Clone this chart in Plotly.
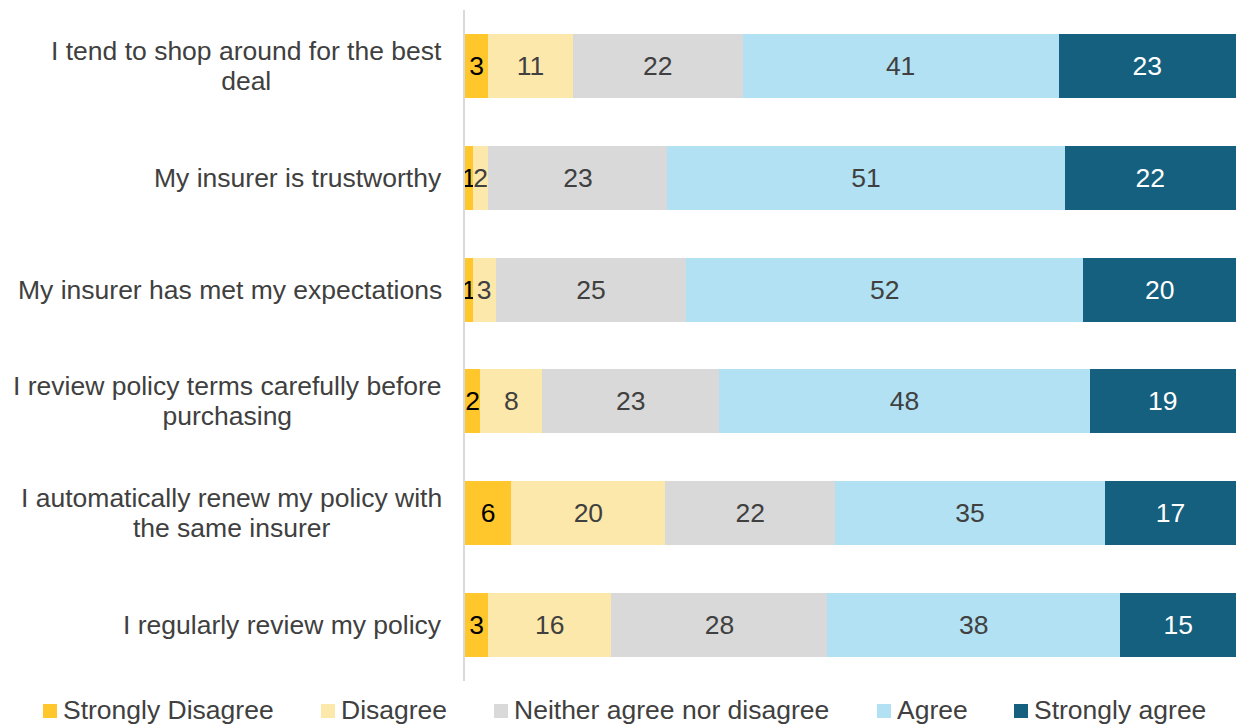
import plotly.graph_objects as go

# Survey statements (top to bottom) and their wrapped display labels
statements = [
    "I tend to shop around for the best deal",
    "My insurer is trustworthy",
    "My insurer has met my expectations",
    "I review policy terms carefully before purchasing",
    "I automatically renew my policy with the same insurer",
    "I regularly review my policy",
]
statement_labels = [
    "I tend to shop around for the best<br>deal",
    "My insurer is trustworthy",
    "My insurer has met my expectations",
    "I review policy terms carefully before<br>purchasing",
    "I automatically renew my policy with<br>the same insurer",
    "I regularly review my policy",
]

responses = ["Strongly Disagree", "Disagree", "Neither agree nor disagree",
             "Agree", "Strongly agree"]

strongly_disagree = [3, 1, 1, 2, 6, 3]
disagree = [11, 2, 3, 8, 20, 16]
neither = [22, 23, 25, 23, 22, 28]
agree = [41, 51, 52, 48, 35, 38]
strongly_agree = [23, 22, 20, 19, 17, 15]

series = [strongly_disagree, disagree, neither, agree, strongly_agree]
colors = ["#FFC72C", "#FDE8AB", "#D9D9D9", "#B1E1F2", "#14607E"]
label_colors = ["#000000", "#404040", "#404040", "#404040", "#FFFFFF"]

FONT = "Arial, Liberation Sans, sans-serif"
FS = 26.5
TEXT = "#404040"
# Tighter line spacing for the wrapped labels: the outer font size drives
# the line advance, the inner span keeps the glyph size.
LINE_FS = 29.5 / 1.3

fig = go.Figure()
for name, vals, col, tcol in zip(responses, series, colors, label_colors):
    fig.add_trace(go.Bar(
        y=statements, x=vals, name=name, orientation="h",
        marker=dict(color=col, line=dict(width=0)),
        text=[str(v) for v in vals], textposition="inside",
        insidetextanchor="middle", textangle=0,
        textfont=dict(family=FONT, size=FS, color=tcol),
        cliponaxis=False, showlegend=False,
    ))

# Plot-area geometry (pixels) used to place the legend and labels
W, H = 1236, 724
ML, MR, MT, MB = 465, 0, 10, 43
PW, PH = W - ML - MR, H - MT - MB


def px_x(x):
    return (x - ML) / PW


def px_y(y):
    return (H - MB - y) / PH


annotations = []
# Category labels, right-aligned next to the axis, lines centred
for s, lab in zip(statements, statement_labels):
    if "<br>" in lab:
        lines = lab.split("<br>")
        txt = "<br>".join(
            f"<span style='font-size:{FS}px'>{ln}</span>" for ln in lines)
        fsz = LINE_FS
    else:
        txt, fsz = lab, FS
    annotations.append(dict(
        x=0, xref="paper", y=s, yref="y", xanchor="right", yanchor="middle",
        xshift=-21, text=txt, showarrow=False, align="center",
        font=dict(family=FONT, size=fsz, color=TEXT),
    ))

# Legend row along the bottom
legend_x = [43, 321, 494, 877, 1014]
shapes = []
for name, col, lx in zip(responses, colors, legend_x):
    shapes.append(dict(
        type="rect", xref="paper", yref="paper",
        x0=px_x(lx), x1=px_x(lx + 14), y0=px_y(718), y1=px_y(704),
        fillcolor=col, line=dict(width=0),
    ))
    annotations.append(dict(
        x=px_x(lx + 18), xref="paper", y=px_y(710), yref="paper",
        xanchor="left", yanchor="middle", text=name, showarrow=False,
        font=dict(family=FONT, size=FS, color=TEXT),
    ))

fig.update_layout(
    width=W, height=H,
    margin=dict(l=ML, r=MR, t=MT, b=MB, pad=0),
    barmode="stack", barnorm="percent", bargap=0.428,
    plot_bgcolor="white", paper_bgcolor="white",
    font=dict(family=FONT, size=FS, color=TEXT),
    uniformtext=dict(minsize=FS, mode="show"),
    xaxis=dict(range=[0, 100.001], visible=False, fixedrange=True),
    yaxis=dict(autorange="reversed", showticklabels=False, ticks="",
               showgrid=False, zeroline=False, showline=True,
               linecolor="#D9D9D9", linewidth=1.5, fixedrange=True),
    annotations=annotations, shapes=shapes,
    showlegend=False,
)

fig.write_html("out.html", config={"displayModeBar": False})
